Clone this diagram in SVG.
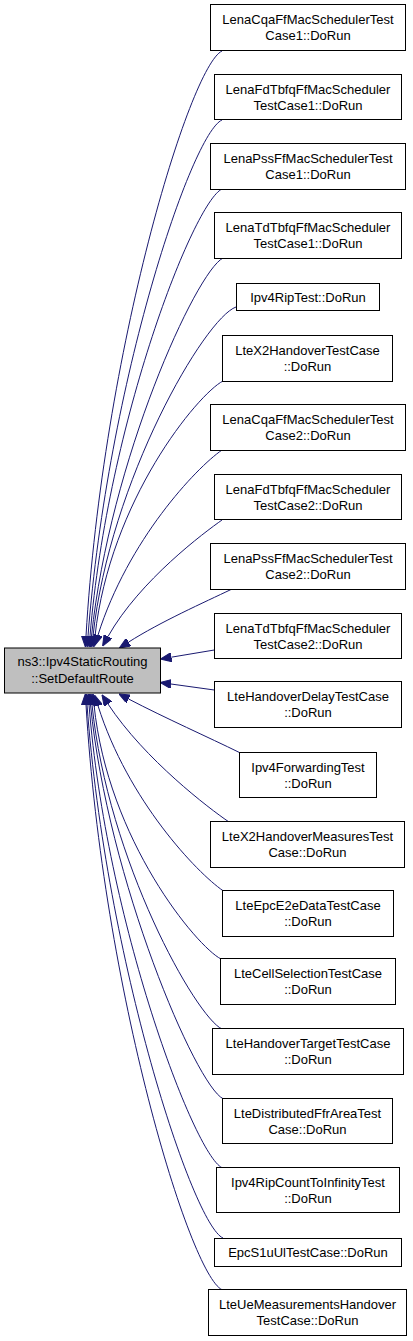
<svg xmlns="http://www.w3.org/2000/svg" width="413" height="1341" viewBox="0 0 413 1341">
<style>
.node rect{fill:#ffffff;stroke:#000000;stroke-width:1}
#main rect{fill:#bfbfbf}
text{font-family:"Liberation Sans",Arial,Helvetica,sans-serif;font-size:13px;fill:#000000;text-anchor:middle}
.edge{fill:none;stroke:#191970;stroke-width:1;marker-end:url(#arr)}
</style>
<defs>
<marker id="arr" viewBox="0 0 11 9" refX="0" refY="4.5" markerWidth="11" markerHeight="9" markerUnits="userSpaceOnUse" orient="auto">
<path d="M0,0 L11,4.5 L0,9 z" fill="#191970" stroke="#191970" stroke-width="1"/>
</marker>
</defs>
<rect width="413" height="1341" fill="#ffffff"/>
<g id="edges">
<path class="edge" d="M222,51 C190,66 103,350 86,636"/>
<path class="edge" d="M222,120 C192,133 108,380 88,636"/>
<path class="edge" d="M222,189 C194,202 108,420 90,636"/>
<path class="edge" d="M223,258 C196,272 110,460 91.5,636"/>
<path class="edge" d="M236,307 C205,318 110,480 93,636"/>
<path class="edge" d="M223,381 C198,394 110,500 95,636"/>
<path class="edge" d="M222,450 C196,468 128,540 98,635"/>
<path class="edge" d="M222,520 C205,532 140,580 108,636.5"/>
<path class="edge" d="M231,589.5 C205,602 160,622 128.6,642.1"/>
<path class="edge" d="M214.3,650 L171.3,657.2"/>
<path class="edge" d="M214.3,690 L171,684"/>
<path class="edge" d="M239,752.3 C210,738 165,718 128.6,699"/>
<path class="edge" d="M228,821.3 C210,809 145,760 108,704"/>
<path class="edge" d="M223,890.7 C197,872.7 128,800.7 98,705.7"/>
<path class="edge" d="M221,959 C197,946.7 108,840.7 94,704.7"/>
<path class="edge" d="M222,1029 C196,1017 108,861 92,704.7"/>
<path class="edge" d="M223,1098.7 C196,1085 108,881 90.5,704.7"/>
<path class="edge" d="M222,1167.7 C194,1154 106,921 89,704.7"/>
<path class="edge" d="M223,1238 C193,1225 106,961 87,704.7"/>
<path class="edge" d="M222,1289.7 C190,1274.7 103,990.7 86,704.7"/>
</g>
<g id="main" class="node"><rect x="4.5" y="648" width="156" height="45"/><text x="82.5" y="666">ns3::Ipv4StaticRouting</text><text x="82.5" y="682.5">::SetDefaultRoute</text></g>
<g id="n1" class="node"><rect x="210.5" y="4.5" width="195" height="46"/><text x="308" y="24">LenaCqaFfMacSchedulerTest</text><text x="308" y="40">Case1::DoRun</text></g>
<g id="n2" class="node"><rect x="214.5" y="74.5" width="187" height="45"/><text x="308" y="93.5">LenaFdTbfqFfMacScheduler</text><text x="308" y="109.5">TestCase1::DoRun</text></g>
<g id="n3" class="node"><rect x="210.5" y="143.5" width="195" height="46"/><text x="308" y="163">LenaPssFfMacSchedulerTest</text><text x="308" y="179">Case1::DoRun</text></g>
<g id="n4" class="node"><rect x="214.5" y="212.5" width="187" height="46"/><text x="308" y="232">LenaTdTbfqFfMacScheduler</text><text x="308" y="248">TestCase1::DoRun</text></g>
<g id="n5" class="node"><rect x="236.5" y="283.5" width="143" height="27"/><text x="308" y="301.5">Ipv4RipTest::DoRun</text></g>
<g id="n6" class="node"><rect x="222.5" y="335.5" width="170" height="46"/><text x="307.5" y="355">LteX2HandoverTestCase</text><text x="307.5" y="371">::DoRun</text></g>
<g id="n7" class="node"><rect x="210.5" y="404.5" width="195" height="46"/><text x="308" y="424">LenaCqaFfMacSchedulerTest</text><text x="308" y="440">Case2::DoRun</text></g>
<g id="n8" class="node"><rect x="214.5" y="474.5" width="187" height="45"/><text x="308" y="493.5">LenaFdTbfqFfMacScheduler</text><text x="308" y="509.5">TestCase2::DoRun</text></g>
<g id="n9" class="node"><rect x="210.5" y="543.5" width="195" height="46"/><text x="308" y="563">LenaPssFfMacSchedulerTest</text><text x="308" y="579">Case2::DoRun</text></g>
<g id="n10" class="node"><rect x="214.5" y="613.5" width="187" height="45"/><text x="308" y="632.5">LenaTdTbfqFfMacScheduler</text><text x="308" y="648.5">TestCase2::DoRun</text></g>
<g id="n11" class="node"><rect x="214.5" y="681.5" width="187" height="46"/><text x="308" y="701">LteHandoverDelayTestCase</text><text x="308" y="717">::DoRun</text></g>
<g id="n12" class="node"><rect x="239.5" y="752.5" width="137" height="45"/><text x="308" y="771.5">Ipv4ForwardingTest</text><text x="308" y="787.5">::DoRun</text></g>
<g id="n13" class="node"><rect x="210.5" y="821.5" width="194" height="46"/><text x="307.5" y="841">LteX2HandoverMeasuresTest</text><text x="307.5" y="857">Case::DoRun</text></g>
<g id="n14" class="node"><rect x="222.5" y="890.5" width="171" height="46"/><text x="308" y="910">LteEpcE2eDataTestCase</text><text x="308" y="926">::DoRun</text></g>
<g id="n15" class="node"><rect x="220.5" y="958.5" width="175" height="46"/><text x="308" y="978">LteCellSelectionTestCase</text><text x="308" y="994">::DoRun</text></g>
<g id="n16" class="node"><rect x="212.5" y="1028.5" width="191" height="46"/><text x="308" y="1048">LteHandoverTargetTestCase</text><text x="308" y="1064">::DoRun</text></g>
<g id="n17" class="node"><rect x="222.5" y="1098.5" width="170" height="45"/><text x="307.5" y="1117.5">LteDistributedFfrAreaTest</text><text x="307.5" y="1133.5">Case::DoRun</text></g>
<g id="n18" class="node"><rect x="216.5" y="1167.5" width="183" height="45"/><text x="308" y="1186.5">Ipv4RipCountToInfinityTest</text><text x="308" y="1202.5">::DoRun</text></g>
<g id="n19" class="node"><rect x="214.5" y="1238.5" width="187" height="28"/><text x="308" y="1257">EpcS1uUlTestCase::DoRun</text></g>
<g id="n20" class="node"><rect x="208.5" y="1289.5" width="198" height="46"/><text x="307.5" y="1309">LteUeMeasurementsHandover</text><text x="307.5" y="1325">TestCase::DoRun</text></g>
</svg>
